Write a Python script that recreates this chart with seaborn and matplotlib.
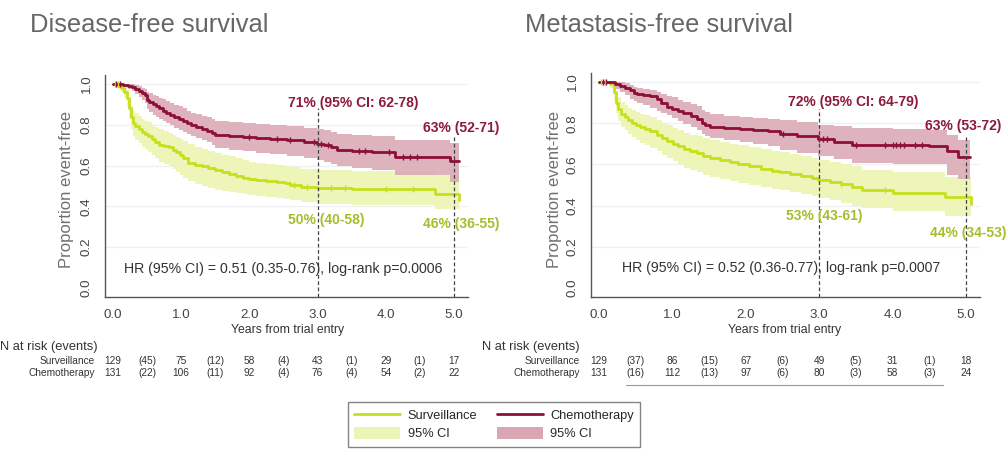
import numpy as np
import pandas as pd
import matplotlib
matplotlib.use("Agg")
import matplotlib.pyplot as plt
import seaborn as sns
from matplotlib.lines import Line2D
from matplotlib.patches import Patch
import matplotlib.transforms as mtrans

sns.set_style("white")
plt.rcParams['font.family'] = ['Liberation Sans', 'DejaVu Sans']

# ---------------- data ----------------
titles = ["Disease-free survival", "Metastasis-free survival"]
groups = ["Surveillance", "Chemotherapy"]

# Disease-free survival: chemotherapy
dfs_chemo_t  = [0, 0.15, 0.22, 0.28, 0.33, 0.38, 0.43, 0.47, 0.5, 0.53, 0.58, 0.63, 0.68, 0.73, 0.78, 0.83, 0.9, 0.97, 1.02, 1.08,
                1.15, 1.22, 1.3, 1.38, 1.45, 1.5, 1.7, 1.9, 2.1, 2.3, 2.55, 2.8, 2.99, 3.1, 3.2, 3.28, 3.5, 3.8, 4.13, 4.94, 5.07]
dfs_chemo_s  = [1.0, 0.995, 0.99, 0.985, 0.975, 0.965, 0.955, 0.946, 0.92, 0.91, 0.90, 0.89, 0.88, 0.87, 0.86, 0.85, 0.84, 0.83, 0.82, 0.81,
                0.80, 0.79, 0.78, 0.77, 0.76, 0.75, 0.745, 0.74, 0.735, 0.73, 0.725, 0.715, 0.706, 0.70, 0.69, 0.676, 0.67, 0.665, 0.644, 0.623, 0.623]
dfs_chemo_lo = [1.0, 0.985, 0.975, 0.965, 0.95, 0.935, 0.92, 0.905, 0.875, 0.865, 0.85, 0.84, 0.83, 0.82, 0.81, 0.80, 0.785, 0.775, 0.765, 0.755,
                0.745, 0.735, 0.725, 0.715, 0.70, 0.685, 0.675, 0.67, 0.66, 0.655, 0.645, 0.635, 0.627, 0.62, 0.61, 0.60, 0.59, 0.58, 0.554, 0.52, 0.52]
dfs_chemo_hi = [1.0, 1.0, 1.0, 1.0, 0.995, 0.99, 0.98, 0.975, 0.96, 0.955, 0.945, 0.94, 0.93, 0.925, 0.915, 0.905, 0.895, 0.89, 0.88, 0.87,
                0.86, 0.855, 0.845, 0.84, 0.83, 0.82, 0.815, 0.81, 0.805, 0.80, 0.795, 0.785, 0.78, 0.775, 0.765, 0.755, 0.75, 0.745, 0.725, 0.71, 0.71]
dfs_chemo_cens = [0.05, 0.1, 2.0, 2.4, 2.6, 2.95, 3.05, 3.15, 3.6, 3.7, 4.05, 4.25, 4.35, 4.45]

# Disease-free survival: surveillance
dfs_surv_t  = [0, 0.08, 0.12, 0.16, 0.2, 0.23, 0.26, 0.29, 0.33, 0.38, 0.43, 0.47, 0.52, 0.57, 0.62, 0.67, 0.75, 0.82, 0.88, 0.93, 0.98,
               1.03, 1.1, 1.2, 1.3, 1.4, 1.5, 1.6, 1.7, 1.8, 1.9, 2.0, 2.1, 2.25, 2.4, 2.52, 2.6, 2.75, 2.99, 3.5, 4.72, 5.07]
dfs_surv_s  = [1.0, 0.99, 0.98, 0.96, 0.93, 0.88, 0.84, 0.81, 0.795, 0.78, 0.765, 0.755, 0.745, 0.73, 0.715, 0.70, 0.695, 0.69, 0.675, 0.665, 0.65,
               0.635, 0.615, 0.605, 0.598, 0.59, 0.58, 0.57, 0.56, 0.55, 0.54, 0.535, 0.53, 0.525, 0.52, 0.513, 0.505, 0.495, 0.489, 0.486, 0.46, 0.43]
dfs_surv_lo = [1.0, 0.975, 0.96, 0.93, 0.89, 0.83, 0.78, 0.745, 0.725, 0.71, 0.69, 0.68, 0.665, 0.65, 0.635, 0.62, 0.61, 0.60, 0.585, 0.57, 0.555,
               0.54, 0.525, 0.51, 0.50, 0.49, 0.48, 0.475, 0.47, 0.465, 0.46, 0.455, 0.45, 0.445, 0.44, 0.435, 0.43, 0.42, 0.41, 0.405, 0.385, 0.36]
dfs_surv_hi = [1.0, 1.0, 0.995, 0.985, 0.97, 0.93, 0.89, 0.87, 0.86, 0.845, 0.83, 0.82, 0.815, 0.80, 0.79, 0.78, 0.77, 0.76, 0.75, 0.74, 0.73,
               0.72, 0.705, 0.69, 0.68, 0.67, 0.66, 0.65, 0.645, 0.635, 0.625, 0.62, 0.615, 0.61, 0.605, 0.60, 0.595, 0.585, 0.578, 0.575, 0.555, 0.554]
dfs_surv_cens = [0.03, 0.07, 2.65, 2.85, 3.2, 3.4, 4.0, 4.4]

# Metastasis-free survival: chemotherapy
mfs_chemo_t  = [0, 0.22, 0.28, 0.35, 0.42, 0.47, 0.52, 0.6, 0.7, 0.79, 0.85, 0.92, 1.0, 1.08, 1.15, 1.25, 1.33, 1.4, 1.45, 1.51,
                1.7, 1.92, 2.1, 2.3, 2.47, 2.7, 2.99, 3.2, 3.44, 4.0, 4.5, 4.74, 4.89, 5.05]
mfs_chemo_s  = [1.0, 0.99, 0.98, 0.97, 0.96, 0.945, 0.94, 0.935, 0.93, 0.92, 0.90, 0.88, 0.87, 0.86, 0.85, 0.835, 0.82, 0.80, 0.79, 0.78,
                0.775, 0.77, 0.765, 0.76, 0.75, 0.74, 0.723, 0.71, 0.694, 0.694, 0.69, 0.665, 0.637, 0.637]
mfs_chemo_lo = [1.0, 0.965, 0.95, 0.935, 0.92, 0.91, 0.90, 0.89, 0.875, 0.86, 0.85, 0.84, 0.825, 0.81, 0.795, 0.78, 0.767, 0.75, 0.74, 0.73,
                0.72, 0.71, 0.70, 0.69, 0.67, 0.655, 0.64, 0.625, 0.605, 0.60, 0.60, 0.55, 0.53, 0.53]
mfs_chemo_hi = [1.0, 1.0, 1.0, 0.995, 0.985, 0.975, 0.97, 0.965, 0.96, 0.95, 0.94, 0.93, 0.925, 0.915, 0.905, 0.895, 0.885, 0.865, 0.855, 0.845,
                0.835, 0.83, 0.825, 0.82, 0.815, 0.805, 0.79, 0.785, 0.775, 0.77, 0.765, 0.745, 0.72, 0.72]
mfs_chemo_cens = [0.05, 0.1, 2.5, 3.0, 3.05, 3.1, 3.5, 3.9, 4.0, 4.05, 4.1, 4.15, 4.3, 4.4]

# Metastasis-free survival: surveillance
mfs_surv_t  = [0, 0.15, 0.2, 0.23, 0.26, 0.3, 0.35, 0.4, 0.45, 0.5, 0.56, 0.62, 0.7, 0.79, 0.86, 0.93, 1.01, 1.08, 1.16, 1.24, 1.33,
               1.42, 1.51, 1.65, 1.78, 1.9, 2.05, 2.2, 2.35, 2.47, 2.6, 2.75, 2.9, 2.99, 3.15, 3.3, 3.44, 3.58, 4.0, 4.72, 5.07]
mfs_surv_s  = [1.0, 0.99, 0.95, 0.90, 0.87, 0.845, 0.83, 0.815, 0.80, 0.79, 0.78, 0.77, 0.76, 0.745, 0.73, 0.715, 0.70, 0.69, 0.675, 0.665, 0.655,
               0.64, 0.63, 0.62, 0.61, 0.60, 0.59, 0.58, 0.57, 0.565, 0.555, 0.545, 0.535, 0.525, 0.515, 0.505, 0.49, 0.475, 0.46, 0.44, 0.41]
mfs_surv_lo = [1.0, 0.97, 0.91, 0.85, 0.81, 0.78, 0.765, 0.75, 0.735, 0.72, 0.705, 0.695, 0.68, 0.665, 0.645, 0.63, 0.615, 0.60, 0.585, 0.575, 0.565,
               0.55, 0.54, 0.53, 0.52, 0.51, 0.50, 0.49, 0.48, 0.476, 0.465, 0.455, 0.445, 0.435, 0.425, 0.415, 0.40, 0.39, 0.375, 0.35, 0.34]
mfs_surv_hi = [1.0, 1.0, 0.985, 0.95, 0.925, 0.905, 0.89, 0.875, 0.865, 0.855, 0.845, 0.84, 0.83, 0.815, 0.80, 0.79, 0.775, 0.765, 0.755, 0.745, 0.74,
               0.73, 0.72, 0.71, 0.70, 0.695, 0.686, 0.675, 0.665, 0.66, 0.65, 0.64, 0.63, 0.62, 0.61, 0.60, 0.59, 0.575, 0.565, 0.54, 0.53]
mfs_surv_cens = [0.03, 0.08, 3.0, 3.3, 3.9]

# Annotations (text, x, y, group)
dfs_notes = [("71% (95% CI: 62-78)", 2.57, 0.908, "chemo"), ("63% (52-71)", 4.54, 0.783, "chemo"),
             ("50% (40-58)", 2.56, 0.333, "surv"), ("46% (36-55)", 4.54, 0.314, "surv")]
mfs_notes = [("72% (95% CI: 64-79)", 2.575, 0.904, "chemo"), ("63% (53-72)", 4.44, 0.788, "chemo"),
             ("53% (43-61)", 2.55, 0.35, "surv"), ("44% (34-53)", 4.51, 0.268, "surv")]
hr_texts = ["HR (95% CI) = 0.51 (0.35-0.76), log-rank p=0.0006",
            "HR (95% CI) = 0.52 (0.36-0.77), log-rank p=0.0007"]

# Number at risk tables (events in brackets)
dfs_risk_surv  = ["129", "(45)", "75", "(12)", "58", "(4)", "43", "(1)", "29", "(1)", "17"]
dfs_risk_chemo = ["131", "(22)", "106", "(11)", "92", "(4)", "76", "(4)", "54", "(2)", "22"]
mfs_risk_surv  = ["129", "(37)", "86", "(15)", "67", "(6)", "49", "(5)", "31", "(1)", "18"]
mfs_risk_chemo = ["131", "(16)", "112", "(13)", "97", "(6)", "80", "(3)", "58", "(3)", "24"]
risk_times = [0, 0.5, 1, 1.5, 2, 2.5, 3, 3.5, 4, 4.5, 5]

xticks = [0, 1, 2, 3, 4, 5]
xticklabels = ["0.0", "1.0", "2.0", "3.0", "4.0", "5.0"]
yticks = [0, 0.2, 0.4, 0.6, 0.8, 1.0]
yticklabels = ["0.0", "0.2", "0.4", "0.6", "0.8", "1.0"]

# ---------------- style ----------------
C_SURV = "#c6e01e"
C_SURV_CI = "#edf5b6"
C_SURV_TXT = "#a9bc2c"
C_CHEMO = "#8c0f34"
C_CHEMO_CI = "#d9a6b3"
C_CHEMO_TXT = "#8c1a3a"
GREY = "#555555"

W, H = 1006, 463
fig = plt.figure(figsize=(W / 100, H / 100), dpi=100)

def fx(px):
    return px / W

def fy(py):
    return 1 - py / H

panels = [
    dict(rect=[fx(105), fy(297), fx(363), (297 - 75) / H], xlim=(-0.117, 5.205),
         chemo=(dfs_chemo_t, dfs_chemo_s, dfs_chemo_lo, dfs_chemo_hi, dfs_chemo_cens),
         surv=(dfs_surv_t, dfs_surv_s, dfs_surv_lo, dfs_surv_hi, dfs_surv_cens),
         notes=dfs_notes, hr=hr_texts[0], hrx=2.49, vtop=(0.88, 0.75),
         risk=(dfs_risk_surv, dfs_risk_chemo), title=titles[0], titlex=30,
         ylabx=67, xlabx=288, labright=95, nar=("left", 0)),
    dict(rect=[fx(591), fy(297), fx(389), (297 - 73) / H], xlim=(-0.109, 5.19),
         chemo=(mfs_chemo_t, mfs_chemo_s, mfs_chemo_lo, mfs_chemo_hi, mfs_chemo_cens),
         surv=(mfs_surv_t, mfs_surv_s, mfs_surv_lo, mfs_surv_hi, mfs_surv_cens),
         notes=mfs_notes, hr=hr_texts[1], hrx=2.48, vtop=(0.87, 0.74),
         risk=(mfs_risk_surv, mfs_risk_chemo), title=titles[1], titlex=525,
         ylabx=555, xlabx=785, labright=580, nar=("right", 580)),
]

for p in panels:
    ax = fig.add_axes(p["rect"])
    ax.set_xlim(*p["xlim"])
    ax.set_ylim(-0.044, 1.044)
    for y in yticks[1:]:
        ax.axhline(y, color="#eef1f4", lw=1.0, zorder=0)

    for key, cicol, a in [("surv", C_SURV_CI, 0.95), ("chemo", C_CHEMO_CI, 0.85)]:
        t, s, lo, hi, cens = p[key]
        ax.fill_between(t, lo, hi, step="post", color=cicol, lw=0, zorder=1, alpha=a)
    for key, col in [("surv", C_SURV), ("chemo", C_CHEMO)]:
        t, s, lo, hi, cens = p[key]
        df = pd.DataFrame({"t": t, "s": s})
        sns.lineplot(data=df, x="t", y="s", ax=ax, color=col, lw=2.0,
                     drawstyle="steps-post", estimator=None, zorder=3)
        idx = np.searchsorted(np.asarray(t), np.asarray(cens), side="right") - 1
        cdf = pd.DataFrame({"t": cens, "s": np.asarray(s)[idx]})
        sns.scatterplot(data=cdf, x="t", y="s", ax=ax, marker="|", s=22, color=col,
                        linewidth=1.0, zorder=3.5)

    # dashed reference lines
    ax.plot([3, 3], [-0.044, p["vtop"][0]], ls=(0, (3, 2)), color="#444444", lw=0.9, zorder=4)
    ax.plot([5, 5], [-0.044, p["vtop"][1]], ls=(0, (3, 2)), color="#444444", lw=0.9, zorder=4)

    for txt, x, y, who in p["notes"]:
        ax.text(x, y, txt, fontsize=10, fontweight="bold", va="center", ha="left",
                color=C_CHEMO_TXT if who == "chemo" else C_SURV_TXT, zorder=5, clip_on=False)
    ax.text(p["hrx"], 0.095, p["hr"], fontsize=10.2, ha="center", va="center", color="#333333", zorder=5)

    ax.set_xticks(xticks)
    ax.set_xticklabels(xticklabels)
    ax.set_yticks(yticks)
    ax.set_yticklabels(yticklabels, rotation=90, va="center")
    ax.tick_params(axis="both", direction="out", length=5, width=1, color=GREY,
                   labelsize=9.6, labelcolor="#444444", pad=4)
    ax.tick_params(axis="x", pad=4)
    ax.set_xlabel("")
    ax.set_ylabel("")
    for side in ["top", "right"]:
        ax.spines[side].set_visible(False)
    for side in ["left", "bottom"]:
        ax.spines[side].set_color(GREY)
        ax.spines[side].set_linewidth(1.0)

    # titles and labels
    fig.text(fx(p["titlex"]), fy(25), p["title"], fontsize=18.4, color="#666666", va="center", ha="left")
    fig.text(fx(p["ylabx"]), fy(190), "Proportion event-free", fontsize=12, color="#707070",
             rotation=90, va="center", ha="center")
    fig.text(fx(p["xlabx"]), fy(330), "Years from trial entry", fontsize=8.8, color="#333333",
             va="center", ha="center")

    # number at risk table
    fig.text(fx(p["nar"][1]), fy(347), "N at risk (events)", fontsize=9.3, color="#333333",
             va="center", ha=p["nar"][0])
    trans = mtrans.blended_transform_factory(ax.transData, fig.transFigure)
    for row, (name, vals) in enumerate(zip(groups, p["risk"])):
        yy = fy(361 + 12 * row)
        fig.text(fx(p["labright"]), yy, name, fontsize=7.3, color="#333333", va="center", ha="right")
        for tt, v in zip(risk_times, vals):
            ax.text(tt, yy, v, transform=trans, fontsize=7.3, color="#333333",
                    va="center", ha="center", clip_on=False)

# faint rule under the right-hand table
fig.add_artist(Line2D([fx(626), fx(943)], [fy(385), fy(385)], color="#999999", lw=0.8))

handles = [Line2D([], [], color=C_SURV, lw=2), Patch(facecolor=C_SURV_CI, edgecolor="none"),
           Line2D([], [], color=C_CHEMO, lw=2), Patch(facecolor=C_CHEMO_CI, edgecolor="none")]
labels = ["Surveillance", "95% CI", "Chemotherapy", "95% CI"]
leg = fig.legend(handles, labels, ncol=2, loc="center", bbox_to_anchor=(fx(494), fy(424.5)),
                 fontsize=9.2, frameon=True, fancybox=False, edgecolor="#666666",
                 handlelength=3.6, handleheight=1.1, columnspacing=1.5, borderpad=0.5,
                 labelspacing=0.35, handletextpad=0.6)
leg.get_frame().set_linewidth(1.0)

fig.savefig("out.png", dpi=100, facecolor="white")
